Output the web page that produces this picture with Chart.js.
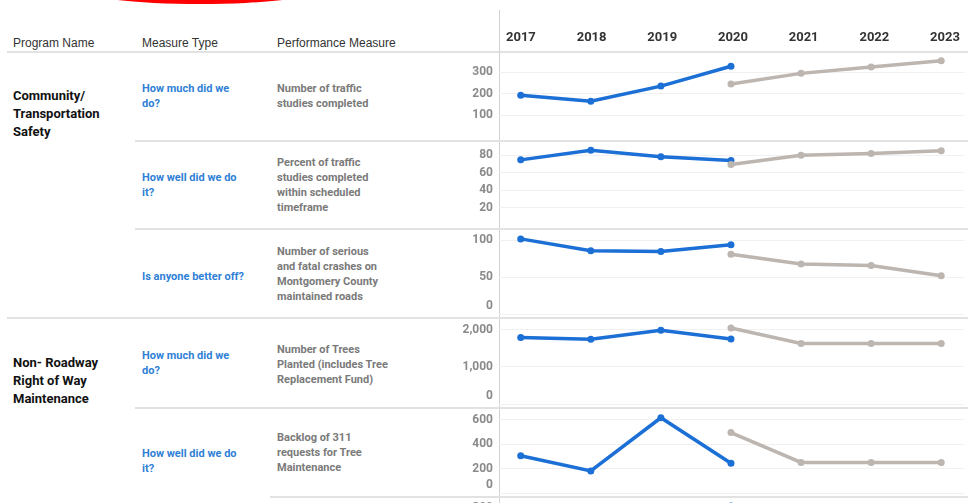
<!DOCTYPE html>
<html>
<head>
<meta charset="utf-8">
<script src="https://cdn.jsdelivr.net/npm/chart.js@4.4.1/dist/chart.umd.min.js"></script>
<style>
  html, body { margin: 0; padding: 0; background: #fff; }
  body { width: 968px; height: 503px; position: relative; overflow: hidden; }
  .abs { position: absolute; }
  .hdr { font-family: "Liberation Sans", Arial, sans-serif; font-size: 12px; color: #333; line-height: 14px; white-space: nowrap; }
  .prog { font-family: Roboto, "Liberation Sans", sans-serif; font-weight: 700; font-size: 13px; color: #111; line-height: 18px; }
  .mtype { font-family: Roboto, "Liberation Sans", sans-serif; font-weight: 700; font-size: 11px; color: #2f7fd6; line-height: 15px; }
  .perf { font-family: Roboto, "Liberation Sans", sans-serif; font-weight: 700; font-size: 11px; color: #7a7a7a; line-height: 15px; }
  .sep { position: absolute; height: 2px; background: #e2e2e2; right: 0; }
  canvas { position: absolute; }
</style>
</head>
<body>
<script>
// ---------- data ----------
const years = [2017, 2018, 2019, 2020, 2021, 2022, 2023];

const studiesActual    = [194, 166, 236, 328, null, null, null];
const studiesProjected = [null, null, null, 246, 295, 325, 353];
const studiesTicks     = [100, 200, 300];

const percentActual    = [74.5, 85.5, 78, 73.8, null, null, null];
const percentProjected = [null, null, null, 69.3, 79.7, 81.8, 84.9];
const percentTicks     = [20, 40, 60, 80];

const crashesActual    = [102, 86, 85, 94, null, null, null];
const crashesProjected = [null, null, null, 81, 68, 66, 52];
const crashesTicks     = [0, 50, 100];

const treesActual      = [1794, 1744, 1990, 1752, null, null, null];
const treesProjected   = [null, null, null, 2047, 1629, 1629, 1629];
const treesTicks       = [0, 1000, 2000];

const backlogActual    = [306, 181, 617, 244, null, null, null];
const backlogProjected = [null, null, null, 495, 251, 251, 251];
const backlogTicks     = [0, 200, 400, 600];

const nextActual       = [null, null, null, 300, null, null, null];
const nextTicks        = [300];

// ---------- layout (positions/styles only) ----------
const BLUE = '#1b6fd5';
const GREY = '#bcb5b0';
const X_MIN = 2016.69, X_MAX = 2023.325;

function addDiv(cls, left, top, html, extra) {
  const d = document.createElement('div');
  d.className = 'abs ' + cls;
  d.style.left = left + 'px';
  d.style.top = top + 'px';
  d.innerHTML = html;
  if (extra) Object.assign(d.style, extra);
  document.body.appendChild(d);
  return d;
}
function addSep(left, top) {
  const d = document.createElement('div');
  d.className = 'sep';
  d.style.left = left + 'px';
  d.style.top = (top - 1) + 'px';
  document.body.appendChild(d);
}

// red shape at top
addDiv('', 80, -25, '', { width: '240px', height: '29px', borderRadius: '50%', background: '#ff0000' });

// header
addDiv('hdr', 13, 36, 'Program Name');
addDiv('hdr', 142, 36, 'Measure Type');
addDiv('hdr', 277, 36, 'Performance Measure');
addSep(7, 52);

// vertical axis line
addDiv('', 499, 10, '', { width: '1px', height: '493px', background: '#d2d2d2' });

// separators
addSep(135, 141);
addSep(135, 229);
addSep(7, 318);
addSep(135, 408);
addSep(270, 497);

// row texts
addDiv('prog', 13, 87, 'Community/<br>Transportation<br>Safety');
addDiv('mtype', 142, 81, 'How much did we<br>do?');
addDiv('perf', 277, 81, 'Number of traffic<br>studies completed');

addDiv('mtype', 142, 170, 'How well did we do<br>it?');
addDiv('perf', 277, 155, 'Percent of traffic<br>studies completed<br>within scheduled<br>timeframe');

addDiv('mtype', 142, 268.5, 'Is anyone better off?');
addDiv('perf', 277, 244, 'Number of serious<br>and fatal crashes on<br>Montgomery County<br>maintained roads');

addDiv('prog', 13, 354, 'Non- Roadway<br>Right of Way<br>Maintenance');
addDiv('mtype', 142, 347.5, 'How much did we<br>do?');
addDiv('perf', 277, 342, 'Number of Trees<br>Planted (includes Tree<br>Replacement Fund)');

addDiv('mtype', 142, 446, 'How well did we do<br>it?');
addDiv('perf', 277, 430, 'Backlog of 311<br>requests for Tree<br>Maintenance');

// ---------- charts ----------
function makeCanvas(left, top, w, h) {
  const c = document.createElement('canvas');
  c.width = w; c.height = h;
  c.style.left = left + 'px'; c.style.top = top + 'px';
  c.style.width = w + 'px'; c.style.height = h + 'px';
  document.body.appendChild(c);
  return c;
}

// header chart with year labels
new Chart(makeCanvas(499, 20, 469, 42), {
  type: 'line',
  data: { datasets: [] },
  options: {
    responsive: false, animation: false, devicePixelRatio: 1,
    layout: { padding: 0 },
    plugins: { legend: { display: false }, tooltip: { enabled: false } },
    scales: {
      x: {
        type: 'linear', position: 'top', min: X_MIN, max: X_MAX,
        afterBuildTicks: s => { s.ticks = years.map(v => ({ value: v })); },
        afterFit: s => { s.height = 40; },
        grid: { display: false }, border: { display: false },
        ticks: {
          autoSkip: false, maxRotation: 0, padding: 6,
          color: '#333', font: { family: 'Roboto', weight: 'bold', size: 13 },
          callback: v => String(v)
        }
      },
      y: { display: false }
    }
  }
});

const tickLabels = {
  id: 'tickLabels',
  afterDraw(chart) {
    const s = chart.scales.y, a = chart.chartArea, ctx = chart.ctx;
    ctx.save();
    ctx.font = 'bold 12px Roboto';
    ctx.fillStyle = '#8a8a8a';
    ctx.textAlign = 'right';
    ctx.textBaseline = 'middle';
    s.ticks.forEach(t => {
      let y = s.getPixelForValue(t.value);
      y = Math.min(Math.max(y, a.top + 7), a.bottom - 8);
      ctx.fillText(t.value.toLocaleString('en-US'), a.left - 6, y);
    });
    ctx.restore();
  }
};

function toPts(arr) { return years.map((y, i) => ({ x: y, y: arr[i] })); }

function rowChart(top, height, actual, projected, ticks, yMax) {
  const datasets = [];
  if (projected) datasets.push({
    data: toPts(projected), borderColor: GREY, backgroundColor: GREY,
    borderWidth: 3.5, pointRadius: 3.5, pointBorderWidth: 0, tension: 0, clip: false, spanGaps: false
  });
  datasets.push({
    data: toPts(actual), borderColor: BLUE, backgroundColor: BLUE,
    borderWidth: 3.5, pointRadius: 3.5, pointBorderWidth: 0, tension: 0, clip: false, spanGaps: false
  });
  new Chart(makeCanvas(440, top, 528, height), {
    type: 'line',
    data: { datasets },
    options: {
      responsive: false, animation: false, devicePixelRatio: 1,
      layout: { padding: 0 },
      plugins: { legend: { display: false }, tooltip: { enabled: false } },
      scales: {
        x: { type: 'linear', min: X_MIN, max: X_MAX, display: false },
        y: {
          min: 0, max: yMax,
          afterBuildTicks: s => { s.ticks = ticks.map(v => ({ value: v })); },
          afterFit: s => { s.width = 59; },
          grid: { color: '#f1f1f1', drawTicks: false, lineWidth: 1 },
          border: { display: false },
          ticks: { display: false }
        }
      }
    },
    plugins: [tickLabels]
  });
}

rowChart(52, 89, studiesActual, studiesProjected, studiesTicks, 375.5);
rowChart(141, 88, percentActual, percentProjected, percentTicks, 91.5);
rowChart(229, 89, crashesActual, crashesProjected, crashesTicks, 110);
rowChart(318, 90, treesActual, treesProjected, treesTicks, 2210);
rowChart(408, 89, backlogActual, backlogProjected, backlogTicks, 664);
rowChart(497, 89, nextActual, null, nextTicks, 320);
</script>
</body>
</html>
